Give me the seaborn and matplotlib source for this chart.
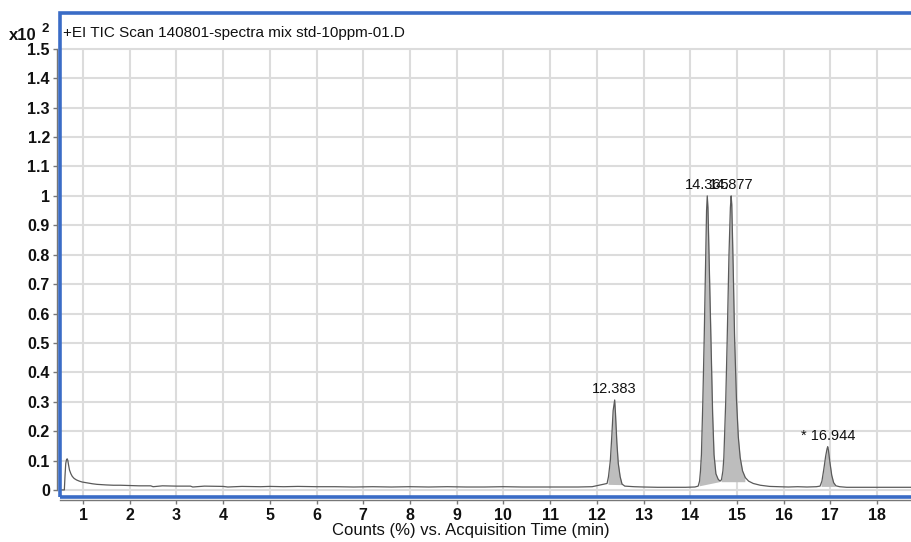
import numpy as np
import matplotlib
matplotlib.use("Agg")
import matplotlib.pyplot as plt
from matplotlib.patches import Rectangle
import seaborn as sns

# TIC trace: acquisition time (min) and counts (x10^2)
time_min = [
    0.50, 0.60, 0.615, 0.63, 0.645, 0.66, 0.675, 0.69, 0.71, 0.74, 0.77, 0.81, 0.86,
    0.92, 0.98, 1.05, 1.12, 1.20, 1.30, 1.40, 1.50, 1.65, 1.80, 2.00, 2.20, 2.45,
    2.50, 2.70, 3.00, 3.30, 3.35, 3.60, 4.00, 4.10, 4.40, 4.80, 5.00, 5.30, 5.60,
    6.00, 6.40, 6.80, 7.20, 7.60, 8.00, 8.40, 8.80, 9.20, 9.60, 10.00, 10.40,
    10.80, 11.20, 11.60, 11.90, 12.05, 12.15, 12.22, 12.25, 12.29, 12.32, 12.35,
    12.383, 12.40, 12.43, 12.46, 12.50, 12.54, 12.60, 12.70, 12.80, 13.00, 13.30,
    13.60, 13.90, 14.10, 14.17, 14.20, 14.22, 14.24, 14.27, 14.30, 14.33, 14.35,
    14.365, 14.38, 14.40, 14.43, 14.45, 14.48, 14.51, 14.55, 14.60, 14.64, 14.67,
    14.70, 14.72, 14.76, 14.79, 14.83, 14.86, 14.877, 14.89, 14.92, 14.95, 14.99,
    15.03, 15.07, 15.12, 15.18, 15.25, 15.35, 15.50, 15.70, 15.90, 16.10, 16.30,
    16.50, 16.70, 16.78, 16.82, 16.86, 16.90, 16.93, 16.944, 16.96, 16.99, 17.03,
    17.07, 17.12, 17.20, 17.35, 17.60, 18.00, 18.40, 18.77,
]
counts = [
    0.000, 0.000, 0.050, 0.090, 0.102, 0.106, 0.100, 0.085, 0.068, 0.055, 0.046,
    0.039, 0.034, 0.030, 0.027, 0.025, 0.023, 0.021, 0.019, 0.018, 0.017, 0.016,
    0.016, 0.015, 0.014, 0.014, 0.011, 0.014, 0.013, 0.013, 0.010, 0.013, 0.012,
    0.010, 0.012, 0.011, 0.012, 0.011, 0.012, 0.011, 0.011, 0.010, 0.011, 0.010,
    0.011, 0.010, 0.011, 0.010, 0.010, 0.011, 0.010, 0.010, 0.010, 0.010, 0.011,
    0.016, 0.019, 0.022, 0.045, 0.100, 0.180, 0.270, 0.306, 0.260, 0.160, 0.090,
    0.045, 0.020, 0.013, 0.012, 0.011, 0.010, 0.009, 0.009, 0.009, 0.010, 0.013,
    0.030, 0.065, 0.120, 0.300, 0.520, 0.780, 0.950, 1.000, 0.960, 0.820, 0.620,
    0.470, 0.260, 0.120, 0.055, 0.036, 0.030, 0.035, 0.065, 0.110, 0.300, 0.500,
    0.800, 0.960, 1.000, 0.970, 0.760, 0.520, 0.310, 0.180, 0.110, 0.065, 0.042,
    0.030, 0.022, 0.016, 0.012, 0.011, 0.010, 0.011, 0.010, 0.011, 0.013, 0.030,
    0.070, 0.115, 0.140, 0.147, 0.135, 0.095, 0.050, 0.025, 0.014, 0.011, 0.009,
    0.009, 0.009, 0.009, 0.009,
]

# Integrated peaks: retention time, label, integration window and baseline levels
peak_rt = [12.383, 14.365, 14.877, 16.944]
peak_labels = ["12.383", "14.365", "14.877", "* 16.944"]
peak_start = [12.24, 14.19, 14.66, 16.80]
peak_end = [12.54, 14.62, 15.17, 17.10]
peak_base_start = [0.019, 0.014, 0.028, 0.012]
peak_base_end = [0.018, 0.028, 0.028, 0.012]

x_ticks = list(range(1, 19))
y_ticks = [round(0.1 * i, 1) for i in range(16)]
y_tick_labels = ["0" if v == 0 else ("1" if v == 1 else f"{v:g}") for v in y_ticks]

title = "+EI TIC Scan 140801-spectra mix std-10ppm-01.D"
x_label = "Counts (%) vs. Acquisition Time (min)"

sns.set_theme(style="white")
plt.rcParams["font.family"] = ["Liberation Sans", "DejaVu Sans"]

W, H = 911, 542
fig = plt.figure(figsize=(W / 100, H / 100), dpi=100)
left, right, top, bottom = 60, 913, 13, 497
ax = fig.add_axes([left / W, 1 - bottom / H, (right - left) / W, (bottom - top) / H])

x_lo, x_hi = 0.507, 18.77
y_lo, y_hi = -0.024, 1.622
ax.set_xlim(x_lo, x_hi)
ax.set_ylim(y_lo, y_hi)

# grid
grid_c = "#dcdcdc"
ax.hlines(y_ticks, x_lo, x_hi, colors=grid_c, linewidth=1.5, zorder=0)
ax.vlines(x_ticks, y_lo, 1.5, colors=grid_c, linewidth=1.5, zorder=0)

t = np.array(time_min)
c = np.array(counts)

# shaded integrated areas
for rt, s, e, b0, b1 in zip(peak_rt, peak_start, peak_end, peak_base_start, peak_base_end):
    m = (t >= s) & (t <= e)
    tt = np.concatenate([[s], t[m], [e]])
    cc = np.concatenate([[np.interp(s, t, c)], c[m], [np.interp(e, t, c)]])
    base = b0 + (b1 - b0) * (tt - s) / (e - s)
    ax.fill_between(tt, base, cc, color="#bdbdbd", linewidth=0, zorder=1)

sns.lineplot(x=time_min, y=counts, ax=ax, color="#5a5a5a", linewidth=0.9,
             estimator=None, sort=False, zorder=2)

for rt, lab in zip(peak_rt, peak_labels):
    ax.annotate(lab, (rt, np.interp(rt, t, c)), xytext=(0, 2.5), textcoords="offset points",
                ha="center", va="bottom", fontsize=10.5, color="#111111", zorder=3)

ax.text(3 / (right - left), 1 - 20 / (bottom - top), title, transform=ax.transAxes,
        ha="left", va="center", fontsize=11, color="#111111")

# axes frame and outer axis lines
for sp in ("top", "right"):
    ax.spines[sp].set_visible(False)
for sp in ("left", "bottom"):
    ax.spines[sp].set_visible(True)
    ax.spines[sp].set_color("#777777")
    ax.spines[sp].set_linewidth(1.0)
    ax.spines[sp].set_position(("outward", 2.2))
ax.spines["left"].set_bounds(0, 1.5)
ax.spines["bottom"].set_bounds(x_lo, x_hi)

ax.add_patch(Rectangle((0, 0), 1, 1, transform=ax.transAxes, fill=False,
                       edgecolor="#3a6cc6", linewidth=2.6, clip_on=False, zorder=5))

ax.set_xticks(x_ticks)
ax.set_xticklabels([str(v) for v in x_ticks], fontweight="bold", fontsize=11.5)
ax.set_yticks(y_ticks)
ax.set_yticklabels(y_tick_labels, fontweight="bold", fontsize=11.5)
ax.tick_params(axis="both", direction="out", length=3, width=1, color="#777777",
               labelcolor="#111111")
ax.tick_params(axis="y", pad=2, left=True)
ax.tick_params(axis="x", pad=3, bottom=True)
ax.set_xlabel("")
ax.set_ylabel("")

fig.text(471 / W, 1 - 531 / H, x_label, ha="center", va="center", fontsize=12,
         color="#111111")
fig.text(9 / W, 1 - 35 / H, "x10", ha="left", va="center", fontsize=12,
         fontweight="bold", color="#111111")
fig.text(41 / W, 1 - 29.5 / H, "2", ha="left", va="center", fontsize=9.5,
         fontweight="bold", color="#111111")

fig.savefig("out.png", dpi=100)
